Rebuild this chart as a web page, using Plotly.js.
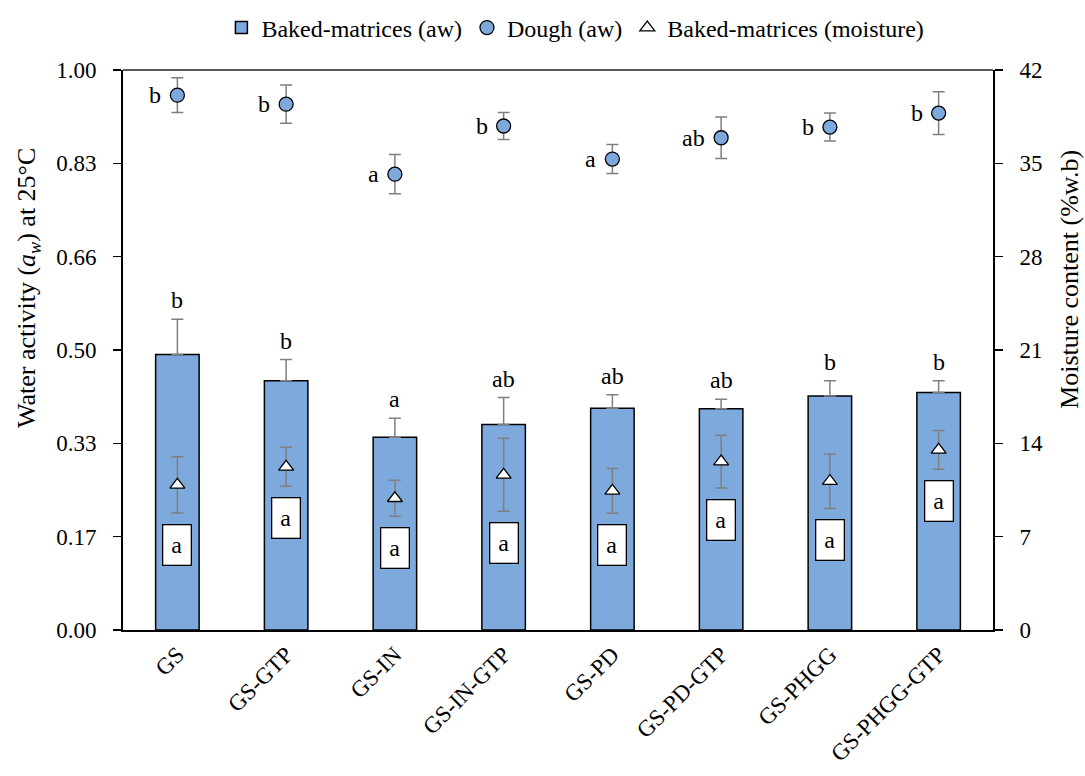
<!DOCTYPE html>
<html>
<head>
<meta charset="utf-8">
<script src="https://cdn.plot.ly/plotly-3.0.1.min.js"></script>
<style>html,body{margin:0;padding:0;background:#fff;}#chart{width:1085px;height:776px;}</style>
</head>
<body>
<div id="chart"></div>
<script>
const categories = ['GS','GS-GTP','GS-IN','GS-IN-GTP','GS-PD','GS-PD-GTP','GS-PHGG','GS-PHGG-GTP'];
const bakedAw = [0.492, 0.445, 0.344, 0.367, 0.396, 0.395, 0.418, 0.424];
const bakedAwErr = [0.063, 0.038, 0.034, 0.048, 0.024, 0.017, 0.027, 0.021];
const bakedAwLetters = ['b','b','a','ab','ab','ab','b','b'];
const doughAw = [0.955, 0.939, 0.814, 0.900, 0.841, 0.879, 0.898, 0.923];
const doughAwErr = [0.031, 0.034, 0.035, 0.024, 0.026, 0.037, 0.025, 0.038];
const doughLetters = ['b','b','a','b','a','ab','b','b'];
const moisture = [10.89, 12.24, 9.88, 11.64, 10.43, 12.63, 11.16, 13.51];
const moistureErr = [2.11, 1.46, 1.35, 2.74, 1.68, 1.98, 2.04, 1.46];
const moistureLetters = ['a','a','a','a','a','a','a','a'];
const leftTickVals = [0, 1/6, 2/6, 3/6, 4/6, 5/6, 1];
const leftTickText = ['0.00','0.17','0.33','0.50','0.66','0.83','1.00'];
const rightTickVals = [0, 7, 14, 21, 28, 35, 42];

const FONT = 'Liberation Serif, Times New Roman, serif';
const ERRC = '#7f7f7f';

const traces = [
  {
    type: 'bar', name: 'Baked-matrices (aw)', x: categories, y: bakedAw, width: 0.4,
    marker: {color: '#7EA9DC', line: {color: '#000', width: 1.5}},
    error_y: {type: 'data', array: bakedAwErr, arrayminus: bakedAw.map(() => 0), symmetric: false,
              color: ERRC, thickness: 1.5, width: 6},
    yaxis: 'y'
  },
  {
    type: 'scatter', mode: 'markers', name: 'Dough (aw)', x: categories, y: doughAw,
    marker: {symbol: 'circle', size: 14, color: '#7EA9DC', line: {color: '#000', width: 1.3}},
    error_y: {type: 'data', array: doughAwErr, color: ERRC, thickness: 1.5, width: 6},
    yaxis: 'y'
  },
  {
    type: 'scatter', mode: 'markers', name: 'Baked-matrices (moisture)', x: categories, y: moisture,
    marker: {symbol: 'triangle-up', size: 13, color: '#fff', line: {color: '#000', width: 1.3}},
    error_y: {type: 'data', array: moistureErr, color: ERRC, thickness: 1.5, width: 6},
    yaxis: 'y2'
  }
];

const annotations = [];
categories.forEach((c, i) => {
  annotations.push({x: c, y: bakedAw[i] + bakedAwErr[i], xref: 'x', yref: 'y', text: bakedAwLetters[i],
    showarrow: false, yanchor: 'bottom', yshift: 4, font: {family: FONT, size: 24, color: '#000'}});
  annotations.push({x: c, y: doughAw[i], xref: 'x', yref: 'y', text: doughLetters[i],
    showarrow: false, xanchor: 'right', xshift: -14, yanchor: 'middle', yshift: 0,
    font: {family: FONT, size: 24, color: '#000'}});
  annotations.push({x: c, y: moisture[i] - moistureErr[i], xref: 'x', yref: 'y2', text: moistureLetters[i],
    showarrow: false, yanchor: 'top', yshift: -11, width: 25, height: 37, valign: 'middle',
    bgcolor: '#fff', bordercolor: '#000', borderwidth: 1.3, borderpad: 1,
    font: {family: FONT, size: 24, color: '#000'}});
});
annotations.push({xref: 'paper', yref: 'paper', x: -0.109, y: 0.611, textangle: -90, showarrow: false,
  xanchor: 'center', yanchor: 'middle',
  text: 'Water activity (<i>a</i><sub><i>w</i></sub>) at 25°C', font: {family: FONT, size: 26, color: '#000'}});
annotations.push({xref: 'paper', yref: 'paper', x: 1.0885, y: 0.627, textangle: -90, showarrow: false,
  xanchor: 'center', yanchor: 'middle',
  text: 'Moisture content (%w.b)', font: {family: FONT, size: 26, color: '#000'}});

const layout = {
  width: 1085, height: 776,
  margin: {l: 123, r: 92, t: 70, b: 146, autoexpand: false},
  paper_bgcolor: '#fff', plot_bgcolor: '#fff',
  font: {family: FONT, size: 23, color: '#000'},
  showlegend: true,
  legend: {orientation: 'h', x: 0.52, xanchor: 'center', y: 1.075, yanchor: 'middle',
           font: {family: FONT, size: 24, color: '#000'}, itemwidth: 30, traceorder: 'normal'},
  xaxis: {type: 'category', showgrid: false, zeroline: false, showline: true, linecolor: '#000', linewidth: 2,
          ticks: '', tickangle: -45, tickfont: {family: FONT, size: 23, color: '#000'}, automargin: false},
  yaxis: {range: [0, 1], tickvals: leftTickVals, ticktext: leftTickText, showgrid: false, zeroline: false,
          showline: true, linecolor: '#000', linewidth: 2, ticks: 'outside', ticklen: 8, tickwidth: 1.5,
          tickcolor: '#000', ticklabelstandoff: 12, tickfont: {family: FONT, size: 23, color: '#000'}, automargin: false},
  yaxis2: {range: [0, 42], tickvals: rightTickVals, overlaying: 'y', side: 'right', showgrid: false, zeroline: false,
           showline: true, linecolor: '#000', linewidth: 2, ticks: 'outside', ticklen: 8, tickwidth: 1.5,
           tickcolor: '#000', ticklabelstandoff: 12, tickfont: {family: FONT, size: 23, color: '#000'}, automargin: false},
  shapes: [{type: 'line', xref: 'paper', yref: 'paper', x0: 0, x1: 1, y0: 1, y1: 1,
            line: {color: '#595959', width: 2}}],
  annotations: annotations
};

Plotly.newPlot('chart', traces, layout, {staticPlot: true, displayModeBar: false});
</script>
</body>
</html>
